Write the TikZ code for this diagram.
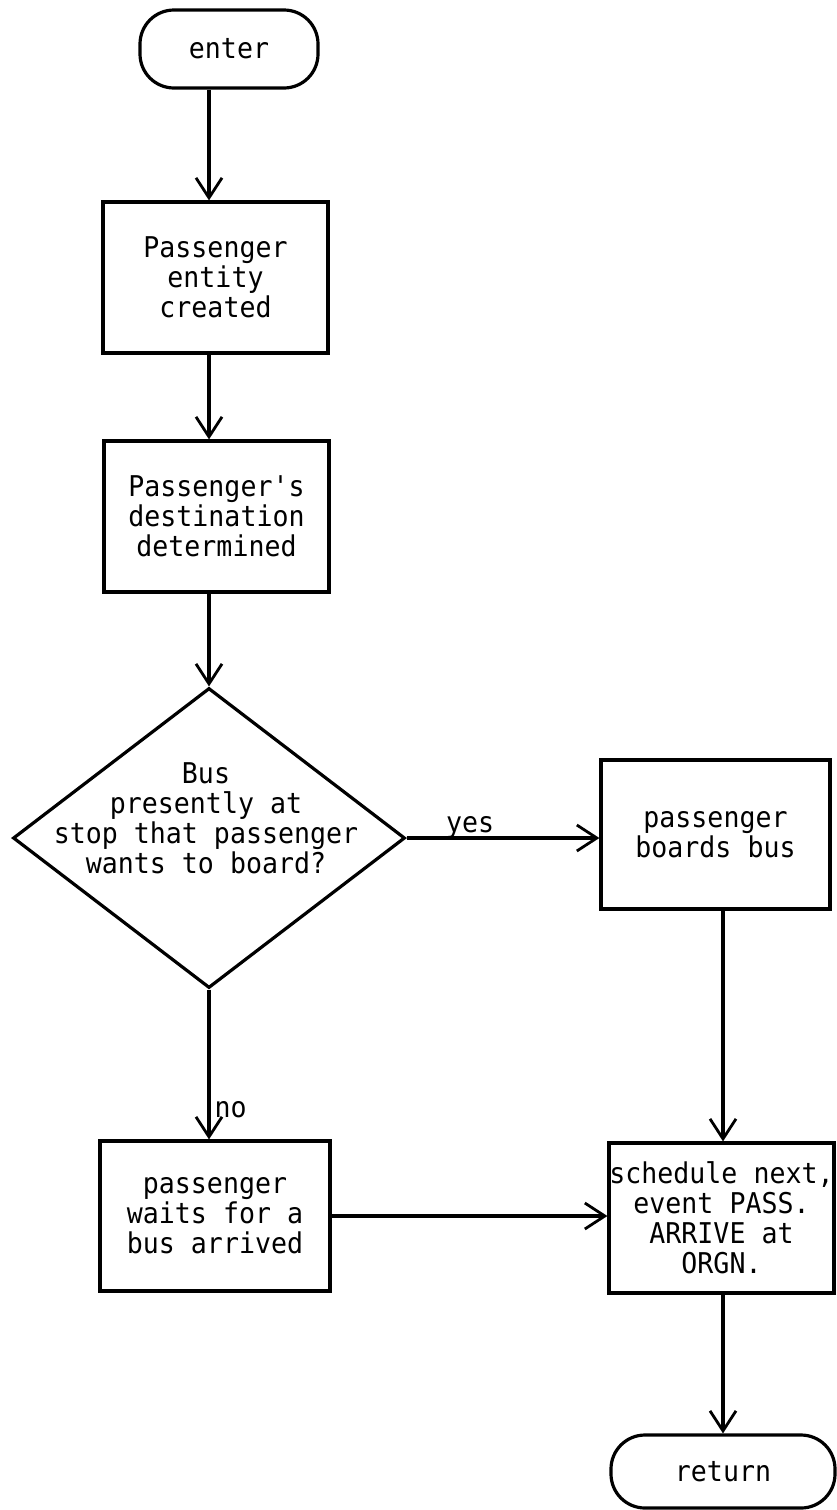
\documentclass[tikz,border=0pt]{standalone}
\usepackage{fontspec}
\setmonofont[FakeStretch=0.93]{DejaVu Sans Mono}
\usetikzlibrary{arrows.meta,shapes.geometric}
\begin{document}
\begin{tikzpicture}[x=0.5pt,y=-0.5pt,
  line width=1.6pt,
  txt/.style={font=\ttfamily\fontsize{14.3pt}{15pt}\selectfont, align=center},
  procbox/.style={draw, rectangle, inner sep=0pt, txt},
  termbox/.style={draw, rectangle, rounded corners=17pt, inner sep=0pt, txt},
  decbox/.style={draw, diamond, inner sep=0pt, minimum width=196pt, minimum height=150pt},
  arr/.style={-{Straight Barb[length=10pt,width=13pt,line width=1.4pt]}},
  lbl/.style={font=\ttfamily\fontsize{14.3pt}{15pt}\selectfont, inner sep=1pt}
]
\useasboundingbox (0,0) rectangle (836,1510);
\fill[white] (0,0) rectangle (836,1510);

% x positions of the two vertical flow lines
\coordinate (sx) at (209,0);
\coordinate (rx) at (723,0);

% nodes
\node[termbox, minimum width=89pt, minimum height=39pt] (enter) at (229,49) {enter};
\node[procbox, minimum width=112.5pt, minimum height=75.5pt] (create) at (215.5,277.5)
  {Passenger\\entity\\created};
\node[procbox, minimum width=112.5pt, minimum height=75.5pt] (dest) at (216.5,516.5)
  {Passenger's\\destination\\determined};
\node[decbox] (dec) at (209,838) {};
\node[txt] (qtext) at (206,818) {Bus\\presently at\\stop that passenger\\wants to board?};
\node[procbox, minimum width=114.5pt, minimum height=74.5pt] (board) at (715.5,834.5)
  {passenger\\boards bus};
\node[procbox, minimum width=115pt, minimum height=75pt] (wait) at (215,1216)
  {passenger\\waits for a\\bus arrived};
\node[procbox, minimum width=112.5pt, minimum height=75pt] (sched) at (721.5,1218)
  {schedule next,\\event PASS.\\ARRIVE at\\ORGN.};
\node[termbox, minimum width=112pt, minimum height=36.5pt] (ret) at (723,1471.5) {return};

% connectors
\draw[arr] (enter.south -| sx) -- (create.north -| sx);
\draw[arr] (create.south -| sx) -- (dest.north -| sx);
\draw[arr] (dest.south -| sx) -- (dec.north);
\draw[arr] (dec.east) -- node[lbl, above, pos=0.33, yshift=-2pt] (yes) {yes} (board.west |- dec.east);
\draw[arr] (dec.south) -- node[lbl, pos=0.88, anchor=south west, xshift=1pt] (no) {no} (wait.north -| sx);
\draw[arr] (board.south -| rx) -- (sched.north -| rx);
\draw[arr] (wait.east) -- (sched.west |- wait.east);
\draw[arr] (sched.south -| rx) -- (ret.north -| rx);
\end{tikzpicture}
\end{document}
